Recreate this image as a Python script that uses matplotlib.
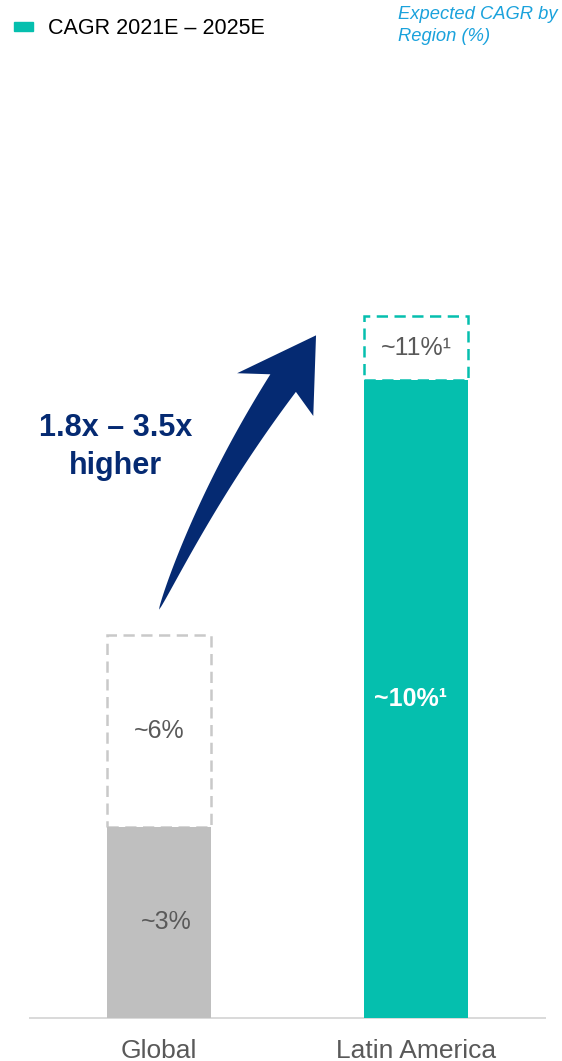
import numpy as np
import matplotlib
matplotlib.use("Agg")
import matplotlib.pyplot as plt
from matplotlib.patches import Patch, Polygon
from matplotlib.transforms import IdentityTransform

plt.rcParams['font.family'] = ['Liberation Sans', 'DejaVu Sans']

# expected CAGR by region, % (low = 2021E-2025E base, high = upside case)
regions = ["Global", "Latin America"]
cagr_low = [3, 10]
cagr_high = [6, 11]
low_labels = ["~3%", "~10%¹"]
high_labels = ["~6%", "~11%¹"]
legend_label = "CAGR 2021E – 2025E"
callout = "1.8x – 3.5x\nhigher"

TEAL = "#05bfae"
GRAY = "#bfbfbf"
DASH_GRAY = "#c9c9c9"
NAVY = "#052a72"
TXT = "#595959"

W, H, DPI = 562, 1061, 100
fig = plt.figure(figsize=(W / DPI, H / DPI), dpi=DPI)
ax = fig.add_axes([0, 0, 1, 1])

# pixel layout -> data limits
px_per_x = 257.0
px_per_y = 63.8
x0_px, base_px = 159.0, 1018.0
ax.set_xlim(-x0_px / px_per_x, (W - x0_px) / px_per_x)
ax.set_ylim(-(H - base_px) / px_per_y, base_px / px_per_y)

xs = list(range(len(regions)))
bar_w = 0.405

# solid base bars
ax.bar(xs, cagr_low, width=bar_w, color=[GRAY, TEAL], zorder=3)

# dashed upside boxes on top
for x, lo, hi, ec in zip(xs, cagr_low, cagr_high, [DASH_GRAY, TEAL]):
    ax.bar(x, hi - lo, bottom=lo, width=bar_w, fill=False, edgecolor=ec,
           linewidth=1.8, linestyle=(0, (4.5, 2.6)), zorder=2)

# value labels
ax.text(xs[0] + 0.03, cagr_low[0] / 2, low_labels[0], ha="center", va="center",
        fontsize=18, color=TXT, zorder=4)
ax.text(xs[0], (cagr_low[0] + cagr_high[0]) / 2, high_labels[0], ha="center",
        va="center", fontsize=18, color=TXT, zorder=4)
ax.text(xs[1] - 0.02, cagr_low[1] / 2, low_labels[1], ha="center", va="center",
        fontsize=18, fontweight="bold", color="white", zorder=4)
ax.text(xs[1], (cagr_low[1] + cagr_high[1]) / 2, high_labels[1], ha="center",
        va="center", fontsize=18, color=TXT, zorder=4)


def curved_arrow(ax, start, tip, color):
    """Tapered curved arrow, built in pixel space between two data points."""
    p0 = ax.transData.transform(start)
    tip = ax.transData.transform(tip)
    u = np.array([0.567, 0.823])          # head direction
    n = np.array([u[1], -u[0]])            # right-hand normal
    p2 = tip - 58 * u                      # where the shaft meets the head
    p1 = p2 - 0.5 * np.linalg.norm(p2 - p0) * u
    t = np.linspace(0, 1, 80)[:, None]
    pts = (1 - t) ** 2 * p0 + 2 * (1 - t) * t * p1 + t ** 2 * p2
    tan = 2 * (1 - t) * (p1 - p0) + 2 * t * (p2 - p1)
    tan /= np.linalg.norm(tan, axis=1)[:, None]
    nrm = np.column_stack([tan[:, 1], -tan[:, 0]])
    half = 15.5 * t ** 0.7
    left = pts - nrm * half
    right = pts + nrm * half
    head = [tip - 76 * u - 43.5 * n, tip, tip - 68 * u + 43.5 * n]
    outline = np.vstack([left, head[:1], [head[1]], head[2:], right[::-1]])
    ax.add_patch(Polygon(outline, closed=True, facecolor=color, edgecolor="none",
                         transform=IdentityTransform(), zorder=5))


curved_arrow(ax, (xs[0], cagr_high[0] + 0.4), (xs[1] - 0.389, cagr_high[1] - 0.3), NAVY)
ax.text(-0.17, 8.95, callout, ha="center", va="center", fontsize=22,
        fontweight="bold", color=NAVY, linespacing=1.32)

# axes styling
for s in ["top", "right", "left"]:
    ax.spines[s].set_visible(False)
ax.spines["bottom"].set_position(("data", 0))
ax.spines["bottom"].set_bounds(-0.502, 1.502)
ax.spines["bottom"].set_color("#d9d9d9")
ax.spines["bottom"].set_linewidth(1.4)
ax.set_yticks([])
ax.set_xticks(xs)
ax.set_xticklabels(regions, fontsize=19, color=TXT)
ax.tick_params(axis="x", length=0, pad=15)

fig.legend(handles=[Patch(color=TEAL)], labels=[legend_label], loc="upper left",
           bbox_to_anchor=(14 / W, 1 - 18 / H), frameon=False, fontsize=15.5,
           borderaxespad=0, borderpad=0,
           handlelength=0.88, handleheight=0.25, handletextpad=0.7)
fig.text(398 / W, 1 - 6 / H, "Expected CAGR by\nRegion (%)", ha="left", va="top",
         fontsize=13.2, style="italic", color="#1aa2dc", linespacing=1.35)

fig.savefig("out.png", dpi=DPI)
